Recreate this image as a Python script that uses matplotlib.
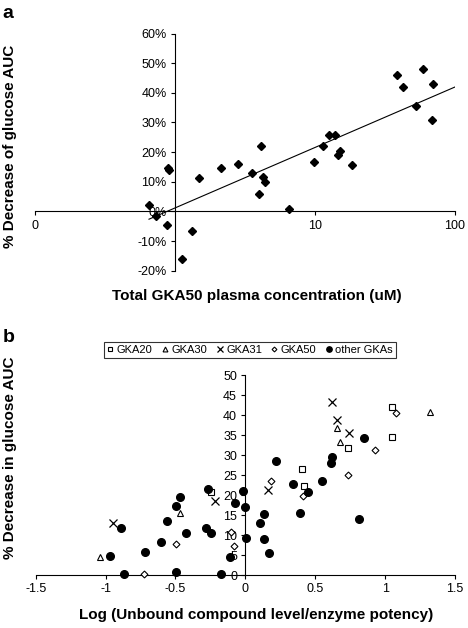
import numpy as np
import matplotlib
matplotlib.use("Agg")
import matplotlib.pyplot as plt
from matplotlib.ticker import FuncFormatter

plt.rcParams['font.family'] = ['Liberation Sans', 'DejaVu Sans']

# panel a: GKA50 total plasma concentration (uM) vs % decrease of glucose AUC
conc_a = [0.652, 0.732, 0.873, 0.887, 0.91, 1.117, 1.316, 1.49, 2.12, 2.8,
          3.53, 4.0, 4.09, 4.27, 4.39, 6.49, 9.9, 11.5, 12.6, 13.9,
          14.7, 15.1, 18.3, 38.7, 42.7, 52.4, 59.4, 68.8, 70.0]
decr_a = [2.3, -1.7, -4.5, 14.8, 13.8, -16.0, -6.5, 11.4, 14.6, 16.0,
          13.1, 6.0, 21.9, 11.6, 9.9, 0.9, 16.8, 22.1, 25.7, 25.7,
          18.9, 20.5, 15.7, 46.0, 42.0, 35.7, 48.0, 30.9, 43.0]
yticks_a = [-20, -10, 0, 10, 20, 30, 40, 50, 60]
xticks_a = [0.1, 10, 100]
xlabels_a = ['0', '10', '100']

# panel b: log(unbound level / potency) vs % decrease
gka20_x = [-0.243, 0.405, 0.421, 0.733, 1.048, 1.052]
gka20_y = [20.7, 26.6, 22.3, 31.8, 42.1, 34.6]
gka30_x = [-1.043, -0.464, 0.655, 0.679, 1.321]
gka30_y = [4.4, 15.4, 36.7, 33.3, 40.8]
gka31_x = [-0.948, -0.214, 0.159, 0.619, 0.655, 0.743]
gka31_y = [12.9, 18.6, 21.25, 43.3, 38.75, 35.4]
gka50_x = [-0.726, -0.495, -0.102, -0.083, 0.183, 0.412, 0.731, 0.929, 1.079]
gka50_y = [0.2, 7.7, 10.7, 7.25, 23.5, 19.7, 25.0, 31.25, 40.4]
other_x = [-0.969, -0.888, -0.869, -0.721, -0.602, -0.56, -0.495, -0.495,
           -0.471, -0.424, -0.281, -0.269, -0.245, -0.174, -0.112, -0.076,
           -0.017, 0.0, 0.005, 0.107, 0.131, 0.131, 0.171, 0.219, 0.34,
           0.388, 0.445, 0.548, 0.614, 0.619, 0.81, 0.85]
other_y = [4.75, 11.7, 0.2, 5.8, 8.2, 13.6, 17.25, 0.8, 19.4, 10.6, 11.7,
           21.4, 10.6, 0.2, 4.6, 17.9, 21.1, 17.1, 9.3, 13.1, 15.25, 9.0,
           5.6, 28.6, 22.7, 15.4, 20.8, 23.6, 27.9, 29.6, 14.0, 34.2]
xticks_b = [-1.5, -1, -0.5, 0, 0.5, 1, 1.5]
xlabels_b = ['-1.5', '-1', '-0.5', '0', '0.5', '1', '1.5']
yticks_b = list(range(0, 51, 5))

W, H = 468, 628
fig = plt.figure(figsize=(W / 100, H / 100), dpi=100)


def px_axes(l, t, r, b):
    return fig.add_axes([l / W, 1 - b / H, (r - l) / W, (b - t) / H])


def style_axes(ax):
    for s in ['top', 'right']:
        ax.spines[s].set_visible(False)
    for s in ['left', 'bottom']:
        ax.spines[s].set_linewidth(0.8)
    ax.tick_params(direction='out', length=3, width=0.8, pad=3, labelsize=9)
    ax.minorticks_off()


# ---- panel a ----
ax1 = px_axes(35, 33.5, 455, 270.7)
ax1.set_xscale('log')
ax1.set_xlim(0.1, 100)
ax1.set_ylim(-20, 60)
style_axes(ax1)
ax1.spines['left'].set_position(('data', 1))
ax1.spines['bottom'].set_position(('data', 0))
ax1.set_xticks(xticks_a)
ax1.set_xticklabels(xlabels_a)
ax1.xaxis.set_minor_locator(matplotlib.ticker.NullLocator())
ax1.set_yticks(yticks_a)
ax1.yaxis.set_major_formatter(FuncFormatter(lambda v, p: '%d%%' % v))

# log trendline through the points
lx = np.log10(conc_a)
k, c = np.polyfit(lx, decr_a, 1)
xx = np.array([min(conc_a), 100])
ax1.plot(xx, k * np.log10(xx) + c, color='black', lw=0.8, zorder=3)
ax1.plot(conc_a, decr_a, 'D', color='black', ms=4, zorder=4, clip_on=False)

fig.text(8 / W, 1 - 14 / H, 'a', fontsize=14, fontweight='bold', ha='center', va='center')
fig.text(10 / W, 1 - 146 / H, '% Decrease of glucose AUC', rotation=90,
         fontsize=11, fontweight='bold', ha='center', va='center')
fig.text(257 / W, 1 - 296 / H, 'Total GKA50 plasma concentration (uM)',
         fontsize=11, fontweight='bold', ha='center', va='center')

# ---- panel b ----
ax2 = px_axes(35.7, 375, 455, 575)
ax2.set_xlim(-1.5, 1.5)
ax2.set_ylim(0, 50)
style_axes(ax2)
ax2.spines['left'].set_position(('data', 0))
ax2.set_xticks(xticks_b)
ax2.set_xticklabels(xlabels_b)
ax2.set_yticks(yticks_b)

open_kw = dict(mfc='white', mec='black', mew=0.8, ls='none', zorder=4, clip_on=False)
ax2.plot(gka20_x, gka20_y, 's', ms=5, label='GKA20', **open_kw)
ax2.plot(gka30_x, gka30_y, '^', ms=5, label='GKA30', **open_kw)
ax2.plot(gka31_x, gka31_y, 'x', ms=5.5, color='black', mew=0.9, ls='none',
         zorder=4, clip_on=False, label='GKA31')
ax2.plot(gka50_x, gka50_y, 'D', ms=3.5, label='GKA50', **open_kw)
ax2.plot(other_x, other_y, 'o', ms=5.5, color='black', ls='none', zorder=4,
         clip_on=False, label='other GKAs')

leg = ax2.legend(loc='center', bbox_to_anchor=(250 / W, 1 - 350 / H),
                 bbox_transform=fig.transFigure, ncol=5, fontsize=8,
                 frameon=True, fancybox=False, edgecolor='black',
                 handlelength=0.6, handletextpad=0.3, columnspacing=0.8,
                 borderpad=0.3, markerscale=0.7)
leg.get_frame().set_linewidth(0.8)

fig.text(9 / W, 1 - 337 / H, 'b', fontsize=14, fontweight='bold', ha='center', va='center')
fig.text(10 / W, 1 - 458 / H, '% Decrease in glucose AUC', rotation=90,
         fontsize=11, fontweight='bold', ha='center', va='center')
fig.text(256 / W, 1 - 615 / H, 'Log (Unbound compound level/enzyme potency)',
         fontsize=11, fontweight='bold', ha='center', va='center')

fig.savefig('out.png', dpi=100)
